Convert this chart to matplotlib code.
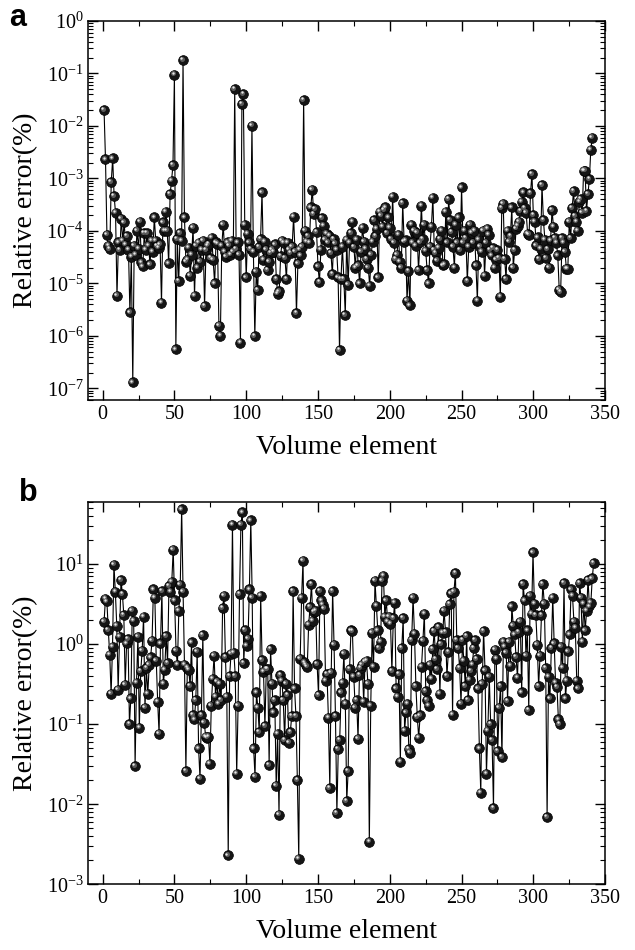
# Relative error per volume element, two log-scale panels
import numpy as np
import matplotlib.pyplot as plt
from matplotlib.ticker import MultipleLocator, LogLocator, NullFormatter
from matplotlib.transforms import offset_copy

plt.rcParams['font.family'] = ['Liberation Serif', 'DejaVu Serif']
plt.rcParams['mathtext.fontset'] = 'custom'
plt.rcParams['mathtext.rm'] = 'Liberation Serif'
plt.rcParams['mathtext.it'] = 'Liberation Serif:italic'
plt.rcParams['mathtext.bf'] = 'Liberation Serif:bold'

# panel a: relative error (%)
err_a = [
    2.0e-2, 2.3e-3, 8.5e-5, 5.2e-5, 4.5e-5, 8.5e-4, 2.4e-3, 4.6e-4, 2.2e-4, 5.8e-6,
    6.0e-5, 4.3e-5, 1.7e-4, 6.5e-5, 1.45e-4, 5.5e-5, 8.0e-5, 4.4e-5, 2.8e-6, 3.2e-5,
    1.3e-7, 5.2e-5, 3.5e-5, 1.0e-4, 4.6e-5, 1.5e-4, 2.5e-5, 2.1e-5, 9.0e-5, 4.4e-5,
    9.0e-5, 5.2e-5, 2.3e-5, 6.5e-5, 4.0e-5, 1.8e-4, 6.5e-5, 5.1e-5, 4.8e-5, 5.5e-5,
    4.3e-6, 1.45e-4, 1.0e-4, 2.3e-4, 1.0e-4, 2.4e-5, 5.0e-4, 9.0e-4, 1.8e-3, 9.5e-2,
    5.5e-7, 7.0e-5, 1.1e-5, 9.0e-5, 6.5e-5, 1.8e-1, 1.8e-4, 2.6e-5, 2.8e-5, 4.8e-5,
    1.4e-5, 3.5e-5, 1.15e-4, 5.8e-6, 5.2e-5, 2.0e-5, 5.9e-5, 2.6e-5, 4.4e-5, 6.5e-5,
    3.7e-6, 4.3e-5, 5.2e-5, 5.6e-5, 3.0e-5, 7.4e-5, 2.8e-5, 1.0e-5, 6.0e-5, 5.7e-5,
    1.55e-6, 1.0e-6, 5.2e-5, 1.3e-4, 4.0e-5, 3.2e-5, 6.0e-5, 5.2e-5, 3.5e-5, 6.5e-5,
    4.0e-5, 5.0e-2, 4.5e-5, 6.0e-5, 3.5e-5, 7.4e-7, 2.6e-2, 4.0e-2, 1.3e-4, 1.3e-5,
    8.9e-5, 6.0e-5, 4.5e-5, 1.0e-2, 4.0e-5, 9.8e-7, 1.66e-5, 7.4e-6, 4.9e-5, 7.0e-5,
    5.4e-4, 2.8e-5, 6.2e-5, 4.4e-5, 1.8e-5, 2.6e-5, 3.8e-5, 4.4e-5, 4.0e-5, 5.5e-5,
    1.2e-5, 6.3e-6, 7.0e-6, 3.3e-5, 6.5e-5, 5.9e-5, 3.0e-5, 1.2e-5, 5.9e-5, 4.4e-5,
    3.8e-5, 5.0e-5, 1.85e-4, 4.0e-5, 2.7e-6, 2.4e-5, 4.4e-5, 3.4e-5, 5.0e-5, 3.1e-2,
    1.0e-4, 6.2e-5, 8.0e-5, 5.9e-5, 2.8e-4, 6.1e-4, 2.1e-4, 2.6e-4, 9.5e-5, 2.1e-5,
    1.05e-5, 4.4e-5, 1.75e-4, 1.25e-4, 6.8e-5, 8.8e-5, 6.0e-5, 8.1e-5, 3.8e-5, 1.5e-5,
    7.0e-5, 5.7e-5, 4.4e-5, 1.3e-5, 5.3e-7, 1.2e-5, 5.0e-5, 1.2e-5, 2.5e-6, 6.8e-5,
    9.5e-6, 5.9e-5, 9.0e-5, 1.5e-4, 4.9e-5, 2.0e-5, 6.8e-5, 2.2e-5, 1.0e-5, 4.0e-5,
    1.15e-4, 6.2e-5, 4.6e-5, 2.9e-5, 2.0e-5, 9.0e-6, 3.5e-5, 6.2e-5, 1.6e-4, 8.0e-5,
    1.1e-4, 1.3e-5, 2.3e-4, 1.95e-4, 1.2e-4, 2.5e-4, 2.8e-4, 9.0e-5, 1.8e-4, 1.15e-4,
    7.0e-5, 4.5e-4, 5.9e-5, 2.9e-5, 3.5e-5, 8.5e-5, 2.6e-5, 2.0e-5, 3.4e-4, 6.2e-5,
    6.6e-5, 4.7e-6, 1.7e-5, 3.8e-6, 1.3e-4, 6.0e-5, 1.0e-4, 5.2e-5, 9.3e-5, 1.8e-5,
    6.0e-5, 3.0e-4, 7.0e-5, 1.3e-4, 4.2e-5, 1.8e-5, 1.0e-5, 5.0e-5, 1.2e-4, 4.3e-4,
    4.3e-5, 3.8e-5, 2.7e-5, 4.8e-5, 7.0e-5, 1.0e-4, 2.2e-5, 2.3e-5, 2.3e-4, 6.0e-5,
    4.0e-4, 1.6e-4, 9.4e-5, 5.0e-5, 2.0e-5, 1.3e-4, 6.0e-5, 1.8e-4, 4.3e-5, 6.7e-4,
    6.0e-5, 1.0e-4, 7.3e-5, 1.1e-5, 5.0e-5, 1.3e-4, 9.3e-5, 5.9e-5, 1.0e-4, 2.2e-5,
    4.7e-6, 6.8e-5, 5.0e-5, 4.0e-5, 1.0e-4, 1.4e-5, 5.9e-5, 1.1e-4, 8.5e-5, 4.3e-5,
    3.4e-5, 4.7e-5, 2.0e-5, 2.8e-5, 4.3e-5, 3.0e-5, 5.6e-6, 2.7e-4, 3.3e-4, 2.9e-5,
    1.2e-5, 1.0e-4, 6.2e-5, 8.0e-5, 2.8e-4, 2.0e-5, 4.3e-5, 1.1e-4, 1.25e-4, 1.5e-4,
    2.4e-4, 3.6e-4, 5.4e-4, 2.7e-4, 2.2e-4, 8.8e-5, 8.5e-5, 5.2e-4, 1.2e-3, 2.0e-4,
    1.5e-4, 5.3e-5, 7.5e-5, 2.9e-5, 4.6e-5, 7.4e-4, 1.6e-4, 6.8e-5, 3.0e-5, 4.5e-5,
    2.0e-5, 6.6e-5, 2.5e-4, 1.2e-4, 7.3e-5, 5.9e-5, 3.4e-5, 7.6e-6, 6.8e-6, 7.3e-5,
    5.9e-5, 4.0e-5, 1.9e-5, 1.9e-5, 1.5e-4, 7.3e-5, 2.7e-4, 5.7e-4, 1.9e-4, 1.5e-4,
    1.0e-4, 3.6e-4, 4.0e-4, 2.2e-4, 1.4e-3, 1.4e-3, 2.4e-4, 5.0e-4, 9.6e-4, 3.5e-3,
    6.0e-3,
]

# panel b: relative error (%)
err_b = [
    1.9, 3.7, 3.4, 1.5, 0.74, 0.24, 0.93, 9.8, 4.5, 1.7,
    0.27, 1.23, 6.3, 4.2, 2.3, 0.31, 1.02, 1.15, 0.10, 0.21,
    2.6, 1.95, 0.03, 0.33, 1.23, 0.09, 0.46, 0.83, 2.2, 0.16,
    0.5, 0.24, 0.55, 0.68, 1.1, 4.8, 3.8, 0.62, 0.19, 0.076,
    1.02, 4.6, 0.32, 0.48, 1.26, 0.58, 5.3, 4.5, 6.0, 15,
    3.5, 0.83, 0.55, 2.6, 5.5, 48, 4.5, 0.55, 0.026, 0.51,
    0.48, 0.3, 1.05, 0.13, 0.115, 0.2, 0.8, 0.05, 0.021, 0.13,
    1.3, 0.105, 0.07, 0.068, 0.07, 0.032, 0.17, 0.37, 0.72, 0.22,
    0.34, 0.18, 0.32, 0.2, 2.8, 4.0, 0.69, 0.22, 0.0023, 0.4,
    0.76, 31, 0.78, 0.4, 0.024, 0.17, 4.2, 31, 44, 0.58,
    1.5, 0.95, 1.17, 4.8, 35, 3.8, 0.05, 0.022, 0.25, 0.16,
    0.08, 4.0, 0.63, 0.45, 0.095, 0.49, 0.49, 0.031, 0.87, 0.32,
    0.14, 0.2, 0.017, 0.076, 0.0074, 0.41, 0.35, 0.2, 0.063, 0.32,
    0.23, 0.059, 0.08, 0.126, 4.6, 0.28, 0.126, 0.02, 0.0021, 0.66,
    3.8, 11, 0.59, 0.55, 0.52, 1.74, 2.9, 5.6, 1.95, 2.5,
    2.6, 0.56, 0.23, 4.6, 3.5, 3.1, 2.75, 0.35, 0.42, 0.12,
    0.016, 0.44, 4.6, 0.98, 0.126, 0.0078, 0.049, 0.063, 0.25, 0.33,
    0.76, 0.18, 0.011, 0.026, 0.49,
    1.48, 1.45, 0.39, 0.16, 0.2, 0.066, 0.41, 0.5, 0.55, 0.19,
    0.6, 0.62, 0.32, 0.0034, 0.17, 1.38, 0.52, 6.2, 3.0, 1.48,
    0.89, 1.07, 6.2, 7.1, 2.2, 3.5, 1.9, 2.2, 1.8, 0.46,
    2.1, 3.3, 0.28, 0.22, 0.42, 0.034, 0.89, 2.1, 0.083, 0.14,
    0.18, 0.049, 0.044, 1.12, 3.8, 1.35, 0.3, 0.123, 0.068, 0.129,
    0.52, 1.1, 2.4, 0.26, 0.2, 0.17, 0.55, 0.37, 0.87, 1.45,
    0.65, 0.49, 1.62, 0.24, 1.0, 1.38, 2.6, 1.41, 0.4, 0.79,
    3.16, 4.3, 0.132, 4.5, 7.7, 1.12, 0.89, 0.5, 0.18, 1.12,
    0.62, 0.3, 1.26, 0.2, 0.36, 0.46, 0.55, 0.89, 1.12, 0.65,
    0.28, 0.05, 0.014, 0.32, 1.45, 0.47, 0.024, 0.083, 0.39, 0.1,
    0.063, 0.009, 0.85, 0.66, 0.046, 0.16, 0.3, 0.039, 1.07, 0.93,
    0.78, 0.195, 1.07, 0.54, 2.95, 1.7, 1.32, 0.69, 0.38, 1.41,
    1.9, 0.25, 5.6, 3.5, 0.72, 1.48, 0.15, 4.0, 2.4, 13.9,
    3.2, 2.3, 0.98, 0.3, 0.72, 2.3, 5.6, 3.2, 0.5, 0.0069,
    0.39, 0.21, 0.89, 3.8, 1.02, 0.33, 0.29, 0.115, 0.1, 0.93,
    0.51, 5.8, 0.21, 0.35, 0.81, 1.32, 4.8, 4.0, 1.9, 1.6,
    0.35, 0.28, 5.8, 3.8, 1.07, 3.2, 1.48, 2.6, 6.3, 2.95,
    3.3, 6.6, 10.3,
]

last_element = 342
x_a = np.arange(1, len(err_a) + 1)
x_b = np.linspace(1, last_element, len(err_b))

fig = plt.figure(figsize=(6.35, 9.5), dpi=100)
ax_a = fig.add_axes([0.139, 0.579, 0.814, 0.399])
ax_b = fig.add_axes([0.139, 0.069, 0.814, 0.403])


def draw_balls(ax, x, y):
    # line first, then black balls with a small shine on the upper left
    ax.plot(x, y, '-', color='black', lw=0.8, zorder=2)
    ax.plot(x, y, 'o', ms=7, mfc='#151515', mec='black', mew=0.5, zorder=3)
    shine1 = offset_copy(ax.transData, fig=fig, x=-1.0, y=1.0, units='points')
    ax.plot(x, y, 'o', ms=3.6, mfc='#5c5c5c', mec='none', transform=shine1, zorder=4)
    shine2 = offset_copy(ax.transData, fig=fig, x=-1.3, y=1.3, units='points')
    ax.plot(x, y, 'o', ms=1.7, mfc='#e8e8e8', mec='none', transform=shine2, zorder=5)


def style_axis(ax, ylim):
    ax.set_yscale('log')
    ax.set_xlim(-10, 350)
    ax.set_ylim(*ylim)
    ax.xaxis.set_major_locator(MultipleLocator(50))
    ax.xaxis.set_minor_locator(MultipleLocator(25))
    ax.yaxis.set_major_locator(LogLocator(base=10, numticks=20))
    ax.yaxis.set_minor_locator(LogLocator(base=10, subs=np.arange(2, 10), numticks=20))
    ax.yaxis.set_minor_formatter(NullFormatter())
    ax.tick_params(which='both', direction='in', top=True, right=True, labelsize=14.5)
    ax.tick_params(which='major', length=7, width=1.0)
    ax.tick_params(which='minor', length=3.5, width=0.8)
    for s in ax.spines.values():
        s.set_linewidth(1.1)
    ax.set_xlabel('Volume element', fontsize=20, labelpad=8)
    ax.set_ylabel('Relative error(%)', fontsize=20, labelpad=6)


draw_balls(ax_a, x_a, err_a)
style_axis(ax_a, (6e-8, 1))
draw_balls(ax_b, x_b, err_b)
style_axis(ax_b, (1e-3, 60))

fig.text(0.015, 0.997, 'a', fontsize=22, fontweight='bold',
         family=['Liberation Sans'], va='top')
fig.text(0.03, 0.497, 'b', fontsize=22, fontweight='bold',
         family=['Liberation Sans'], va='top')

fig.savefig('out.png', dpi=100)
